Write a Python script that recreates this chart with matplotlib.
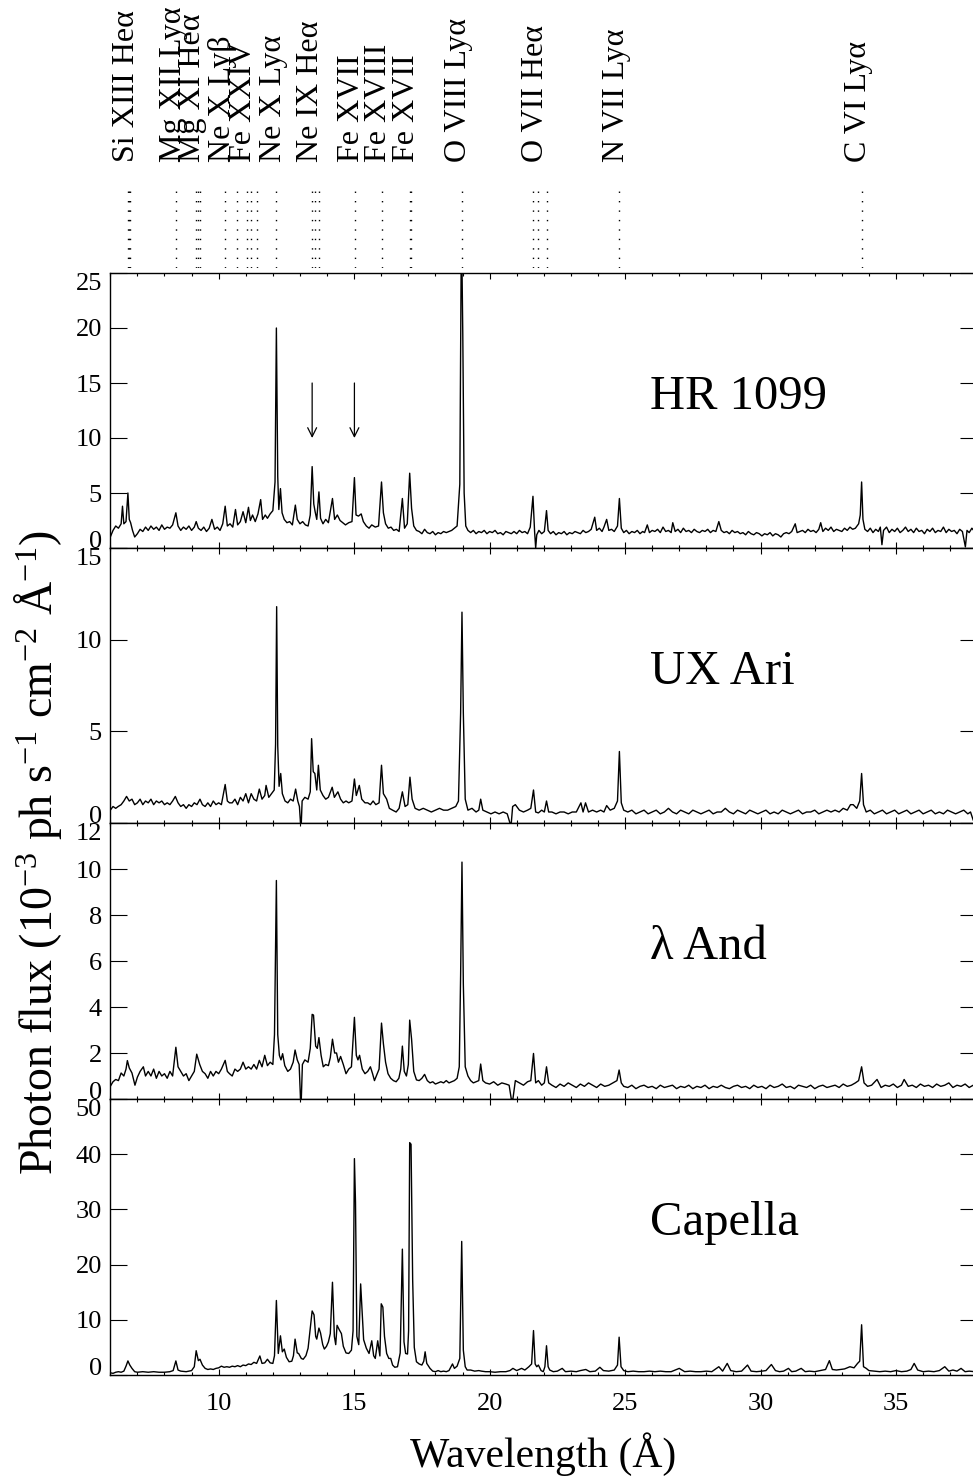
import numpy as np
import matplotlib
matplotlib.use("Agg")
import matplotlib.pyplot as plt

plt.rcParams['font.family'] = ['Liberation Serif', 'DejaVu Serif']
plt.rcParams['mathtext.fontset'] = 'custom'
plt.rcParams['mathtext.rm'] = 'Liberation Serif'
plt.rcParams['mathtext.it'] = 'Liberation Serif:italic'

# ---- spectra: wavelength (A), flux (1e-3 ph/s/cm2/A) ----
hr1099_wave = [
    6.00, 6.10, 6.20, 6.30, 6.40, 6.45, 6.50, 6.58, 6.65, 6.70, 6.75, 6.82, 6.90,
    7.00, 7.10, 7.20, 7.30, 7.40, 7.50, 7.60, 7.70, 7.80, 7.90, 8.00, 8.10, 8.20,
    8.30, 8.42, 8.50, 8.60, 8.70, 8.80, 8.90, 9.00, 9.10, 9.17, 9.25, 9.35, 9.45,
    9.55, 9.65, 9.75, 9.85, 9.95, 10.05, 10.15, 10.24, 10.32, 10.42, 10.52, 10.62,
    10.70, 10.80, 10.90, 11.00, 11.10, 11.17, 11.25, 11.35, 11.45, 11.55, 11.62,
    11.72, 11.80, 11.90, 12.00, 12.08, 12.13, 12.18, 12.22, 12.28, 12.34, 12.42,
    12.52, 12.62, 12.72, 12.83, 12.90, 13.00, 13.10, 13.20, 13.30, 13.38, 13.45,
    13.51, 13.56, 13.62, 13.70, 13.76, 13.85, 13.95, 14.05, 14.20, 14.28, 14.38,
    14.48, 14.58, 14.68, 14.80, 14.92, 15.01, 15.07, 15.16, 15.26, 15.34, 15.45,
    15.55, 15.65, 15.78, 15.90, 16.01, 16.08, 16.16, 16.26, 16.36, 16.46, 16.56,
    16.66, 16.78, 16.86, 16.96, 17.05, 17.12, 17.20, 17.30, 17.40, 17.50, 17.60,
    17.70, 17.80, 17.90, 18.00, 18.10, 18.20, 18.30, 18.40, 18.50, 18.60, 18.70,
    18.80, 18.90, 18.96, 19.01, 19.06, 19.12, 19.20, 19.30, 19.40, 19.50, 19.60,
    19.70, 19.80, 19.90, 20.00, 20.10, 20.20, 20.30, 20.40, 20.50, 20.60, 20.70,
    20.80, 20.90, 21.00, 21.10, 21.20, 21.30, 21.40, 21.50, 21.60, 21.66, 21.70,
    21.74, 21.82, 21.92, 22.02, 22.10, 22.16, 22.25, 22.35, 22.45, 22.55, 22.65,
    22.75, 22.85, 22.95, 23.05, 23.15, 23.25, 23.35, 23.45, 23.55, 23.65, 23.75,
    23.88, 23.95, 24.05, 24.15, 24.22, 24.32, 24.40, 24.50, 24.60, 24.72, 24.79,
    24.86, 24.95, 25.05, 25.15, 25.25, 25.35, 25.45, 25.55, 25.65, 25.72, 25.82,
    25.90, 26.00, 26.10, 26.20, 26.30, 26.40, 26.50, 26.60, 26.70, 26.76, 26.85,
    26.95, 27.05, 27.15, 27.25, 27.35, 27.45, 27.55, 27.65, 27.75, 27.85, 27.95,
    28.05, 28.15, 28.25, 28.35, 28.46, 28.55, 28.65, 28.75, 28.85, 28.95, 29.05,
    29.15, 29.25, 29.35, 29.45, 29.55, 29.65, 29.75, 29.85, 29.95, 30.05, 30.15,
    30.25, 30.35, 30.45, 30.55, 30.65, 30.75, 30.85, 30.95, 31.05, 31.15, 31.28,
    31.35, 31.45, 31.55, 31.65, 31.75, 31.85, 31.95, 32.05, 32.15, 32.22, 32.30,
    32.40, 32.50, 32.60, 32.70, 32.80, 32.90, 33.00, 33.10, 33.20, 33.30, 33.40,
    33.50, 33.62, 33.68, 33.73, 33.78, 33.85, 33.95, 34.05, 34.15, 34.25, 34.35,
    34.42, 34.48, 34.54, 34.65, 34.75, 34.85, 34.95, 35.05, 35.15, 35.25, 35.35,
    35.45, 35.55, 35.65, 35.75, 35.85, 35.95, 36.05, 36.15, 36.25, 36.35, 36.45,
    36.55, 36.65, 36.75, 36.85, 36.95, 37.05, 37.15, 37.25, 37.35, 37.45, 37.56,
    37.62, 37.70, 37.80, 37.90, 38.00]
hr1099_flux = [
    1.0, 1.6, 2.0, 1.8, 2.2, 3.8, 2.2, 2.4, 5.0, 2.6, 2.3, 1.6, 1.0,
    1.3, 1.7, 1.5, 1.9, 1.6, 2.0, 1.7, 1.9, 1.6, 2.1, 1.7, 1.9, 1.8,
    2.1, 3.2, 2.0, 1.6, 1.9, 1.7, 2.0, 1.6, 1.9, 2.4, 1.8, 1.6, 1.9,
    1.5, 1.8, 2.6, 1.7, 1.9, 1.6, 2.2, 3.8, 2.0, 2.2, 1.9, 3.5,
    2.1, 2.4, 3.3, 2.3, 3.7, 2.5, 3.0, 2.4, 3.1, 4.4, 2.6,
    3.0, 2.7, 3.1, 3.4, 6.0, 20.0, 6.5, 3.5, 5.4, 3.2, 2.6,
    2.3, 2.4, 2.1, 3.9, 2.6, 2.2, 2.4, 2.1, 2.0, 3.0, 7.4,
    4.0, 3.3, 2.6, 5.1, 2.7, 2.2, 2.6, 2.3, 4.5, 2.6, 3.0,
    2.5, 2.3, 2.1, 2.3, 2.4, 6.4, 3.0, 2.9, 3.1, 2.4, 2.0,
    1.8, 2.1, 1.9, 2.0, 6.0, 3.2, 2.2, 1.8, 1.9, 1.6, 1.7,
    1.5, 4.5, 1.8, 2.2, 6.8, 3.6, 2.0, 1.6, 1.5, 1.3, 1.7,
    1.4, 1.3, 1.5, 1.2, 1.4, 1.3, 1.5, 1.4, 1.5, 1.6, 1.8,
    2.0, 5.8, 30.0, 19.4, 5.0, 2.0, 1.6, 1.4, 1.6, 1.3, 1.5,
    1.4, 1.6, 1.3, 1.5, 1.4, 1.6, 1.3, 1.4, 1.2, 1.5, 1.4,
    1.3, 1.5, 1.3, 1.6, 1.4, 1.5, 1.3, 1.9, 4.7, 1.5, 0.0,
    1.2, 1.6, 1.3, 1.5, 3.4, 1.6, 1.3, 1.5, 1.2, 1.4, 1.3,
    1.5, 1.2, 1.4, 1.3, 1.5, 1.4, 1.3, 1.6, 1.4, 1.5, 1.7,
    2.8, 1.6, 1.8, 1.5, 1.9, 2.6, 1.6, 1.7, 1.5, 2.0, 4.5,
    1.8, 1.4, 1.6, 1.3, 1.5, 1.4, 1.6, 1.3, 1.5, 1.4, 2.1,
    1.4, 1.6, 1.5, 1.7, 1.4, 1.9, 1.5, 1.6, 1.4, 2.3, 1.5,
    1.7, 1.4, 1.8, 1.5, 1.6, 1.4, 1.7, 1.5, 1.4, 1.6, 1.5,
    1.7, 1.4, 1.6, 1.5, 2.4, 1.6, 1.4, 1.5, 1.3, 1.6, 1.4,
    1.5, 1.3, 1.4, 1.2, 1.5, 1.3, 1.2, 1.4, 1.3, 1.1, 1.3,
    1.2, 1.4, 1.1, 1.3, 1.2, 1.0, 1.3, 1.4, 1.3, 1.5, 2.2,
    1.4, 1.5, 1.6, 1.4, 1.7, 1.5, 1.6, 1.4, 1.7, 2.3, 1.5,
    1.8, 1.6, 1.9, 1.5, 1.7, 1.6, 1.5, 1.8, 1.6, 1.9, 1.7,
    1.8, 2.2, 3.0, 6.0, 2.6, 1.7, 1.5, 1.8, 1.4, 1.7, 1.5,
    1.9, 0.3, 1.6, 1.9, 1.4, 1.7, 1.5, 1.8, 1.4, 1.6, 1.9,
    1.5, 1.7, 1.4, 1.8, 1.5, 1.6, 1.3, 1.7, 1.5, 1.8, 1.4,
    1.6, 1.5, 1.9, 1.4, 1.7, 1.5, 1.6, 1.3, 1.7, 1.5, 0.1,
    1.6, 1.4, 1.8, 1.5, 1.6]

uxari_wave = [
    6.00, 6.10, 6.20, 6.29, 6.40, 6.50, 6.60, 6.70, 6.80, 6.90, 7.00, 7.10, 7.20,
    7.30, 7.40, 7.50, 7.60, 7.70, 7.80, 7.90, 8.00, 8.10, 8.20, 8.30, 8.40, 8.50,
    8.60, 8.70, 8.80, 8.90, 9.00, 9.10, 9.20, 9.31, 9.40, 9.50, 9.60, 9.70, 9.80,
    9.90, 10.00, 10.10, 10.24, 10.32, 10.40, 10.50, 10.60, 10.70, 10.80, 10.90,
    11.00, 11.10, 11.20, 11.30, 11.40, 11.50, 11.60, 11.70, 11.75, 11.85, 11.95,
    12.05, 12.10, 12.14, 12.18, 12.23, 12.29, 12.35, 12.45, 12.55, 12.65, 12.75,
    12.84, 12.92, 12.98, 13.02, 13.05, 13.08, 13.18, 13.30, 13.38, 13.43, 13.49,
    13.55, 13.62, 13.68, 13.75, 13.85, 13.95, 14.05, 14.19, 14.27, 14.40, 14.50,
    14.60, 14.70, 14.80, 14.92, 15.01, 15.08, 15.19, 15.28, 15.40, 15.50, 15.60,
    15.70, 15.80, 15.92, 16.01, 16.08, 16.20, 16.30, 16.42, 16.55, 16.66, 16.78,
    16.88, 16.98, 17.06, 17.14, 17.25, 17.40, 17.55, 17.70, 17.85, 18.00, 18.15,
    18.30, 18.45, 18.60, 18.75, 18.85, 18.93, 18.98, 19.03, 19.10, 19.20, 19.35,
    19.50, 19.60, 19.67, 19.75, 19.90, 20.05, 20.20, 20.35, 20.50, 20.65, 20.75,
    20.80, 20.85, 20.95, 21.10, 21.25, 21.40, 21.52, 21.62, 21.70, 21.80, 21.92,
    22.02, 22.10, 22.18, 22.30, 22.45, 22.60, 22.75, 22.90, 23.05, 23.20, 23.37,
    23.45, 23.54, 23.65, 23.80, 23.95, 24.10, 24.22, 24.32, 24.45, 24.60, 24.72,
    24.79, 24.86, 24.95, 25.10, 25.25, 25.40, 25.55, 25.70, 25.85, 26.00, 26.15,
    26.30, 26.45, 26.60, 26.75, 26.90, 27.05, 27.20, 27.35, 27.50, 27.65, 27.80,
    27.95, 28.10, 28.25, 28.40, 28.55, 28.70, 28.85, 29.00, 29.15, 29.30, 29.45,
    29.60, 29.75, 29.90, 30.05, 30.20, 30.35, 30.50, 30.65, 30.80, 30.95, 31.10,
    31.25, 31.40, 31.55, 31.70, 31.85, 32.00, 32.15, 32.30, 32.45, 32.60, 32.75,
    32.90, 33.05, 33.20, 33.32, 33.42, 33.55, 33.66, 33.73, 33.80, 33.90, 34.05,
    34.20, 34.35, 34.50, 34.65, 34.80, 34.95, 35.10, 35.25, 35.40, 35.55, 35.70,
    35.85, 36.00, 36.15, 36.30, 36.45, 36.60, 36.75, 36.90, 37.05, 37.20, 37.35,
    37.50, 37.65, 37.75, 37.85, 37.92, 38.00]
uxari_flux = [
    0.7, 0.9, 0.8, 0.9, 1.0, 1.2, 1.45, 1.2, 1.3, 1.0, 1.1, 1.3, 1.0,
    1.2, 1.1, 1.3, 1.0, 1.2, 1.1, 1.2, 1.0, 1.1, 1.0, 1.2, 1.45, 1.1,
    0.9, 1.0, 0.8, 1.0, 0.9, 1.1, 1.0, 1.3, 1.0, 0.9, 1.1, 0.9, 1.2,
    1.0, 1.1, 1.0, 2.1, 1.2, 1.1, 1.1, 1.3, 1.0, 1.4, 1.2,
    1.6, 1.1, 1.6, 1.3, 1.2, 1.85, 1.3, 1.5, 2.05, 1.4, 1.6,
    1.8, 4.3, 11.8, 4.2, 2.0, 2.7, 1.6, 1.2, 1.1, 1.3, 1.2,
    1.85, 1.2, 0.9, 0.0, 0.0, 1.2, 1.4, 1.3, 1.7, 4.6, 2.8,
    2.7, 1.8, 3.15, 1.8, 1.5, 1.3, 1.4, 1.95, 1.4, 1.7, 1.3,
    1.1, 1.2, 1.1, 1.2, 2.4, 1.5, 2.05, 1.3, 1.1, 1.1, 1.0,
    1.2, 1.0, 1.1, 3.15, 1.6, 1.3, 0.8, 0.7, 0.6, 0.8, 1.7,
    0.9, 1.0, 2.5, 1.3, 0.8, 0.7, 0.8, 0.7, 0.6, 0.7, 0.8,
    0.7, 0.7, 0.8, 0.9, 1.2, 6.0, 11.5, 6.0, 1.3, 0.7, 0.8,
    0.6, 0.7, 1.3, 0.7, 0.6, 0.5, 0.6, 0.5, 0.6, 0.5, 0.0,
    0.0, 0.9, 1.0, 0.7, 0.6, 0.7, 0.8, 1.8, 0.6, 0.55, 0.7,
    0.6, 1.2, 0.6, 0.6, 0.5, 0.6, 0.6, 0.5, 0.6, 0.6, 1.1,
    0.6, 1.1, 0.6, 0.7, 0.6, 0.7, 0.6, 0.95, 0.7, 0.8, 1.2,
    3.9, 1.1, 0.7, 0.6, 0.7, 0.5, 0.6, 0.7, 0.5, 0.6, 0.7,
    0.5, 0.6, 0.8, 0.6, 0.5, 0.7, 0.6, 0.5, 0.7, 0.6, 0.5,
    0.6, 0.7, 0.5, 0.6, 0.6, 0.8, 0.6, 0.5, 0.7, 0.6, 0.5,
    0.7, 0.6, 0.5, 0.6, 0.7, 0.5, 0.6, 0.5, 0.7, 0.6, 0.5,
    0.6, 0.7, 0.5, 0.6, 0.6, 0.7, 0.5, 0.6, 0.7, 0.6, 0.7,
    0.6, 0.8, 0.7, 1.0, 1.0, 0.8, 1.2, 2.7, 1.0, 0.6, 0.7,
    0.5, 0.6, 0.7, 0.5, 0.6, 0.7, 0.5, 0.6, 0.7, 0.5, 0.6,
    0.7, 0.5, 0.6, 0.7, 0.5, 0.6, 0.5, 0.7, 0.6, 0.5, 0.6,
    0.7, 0.5, 0.6, 0.15, 0.6, 0.5]

land_wave = [
    6.00, 6.10, 6.20, 6.30, 6.40, 6.50, 6.58, 6.63, 6.70, 6.80, 6.91, 7.00, 7.10,
    7.22, 7.30, 7.40, 7.50, 7.60, 7.70, 7.80, 7.90, 8.00, 8.10, 8.20, 8.30, 8.42,
    8.50, 8.60, 8.70, 8.80, 8.90, 9.00, 9.10, 9.19, 9.30, 9.40, 9.50, 9.60, 9.70,
    9.80, 9.90, 10.00, 10.10, 10.24, 10.32, 10.40, 10.50, 10.60, 10.70, 10.80,
    10.90, 11.00, 11.10, 11.20, 11.30, 11.40, 11.50, 11.60, 11.70, 11.80, 11.90,
    12.00, 12.06, 12.13, 12.18, 12.24, 12.30, 12.36, 12.44, 12.55, 12.65, 12.75,
    12.82, 12.90, 12.97, 13.02, 13.05, 13.09, 13.18, 13.30, 13.38, 13.45, 13.50,
    13.58, 13.64, 13.70, 13.78, 13.86, 13.95, 14.05, 14.12, 14.20, 14.28, 14.35,
    14.42, 14.50, 14.60, 14.70, 14.80, 14.90, 15.01, 15.08, 15.14, 15.20, 15.30,
    15.40, 15.50, 15.60, 15.68, 15.75, 15.85, 15.92, 16.01, 16.08, 16.16, 16.25,
    16.35, 16.45, 16.55, 16.65, 16.72, 16.78, 16.85, 16.93, 17.00, 17.05, 17.12,
    17.20, 17.30, 17.40, 17.50, 17.60, 17.70, 17.80, 17.90, 18.00, 18.10, 18.20,
    18.30, 18.40, 18.50, 18.60, 18.70, 18.80, 18.88, 18.93, 18.98, 19.03, 19.10,
    19.20, 19.30, 19.40, 19.50, 19.60, 19.67, 19.75, 19.85, 20.00, 20.15, 20.30,
    20.45, 20.60, 20.72, 20.80, 20.86, 20.95, 21.10, 21.25, 21.40, 21.52, 21.62,
    21.70, 21.80, 21.92, 22.02, 22.10, 22.18, 22.30, 22.45, 22.60, 22.75, 22.90,
    23.05, 23.20, 23.35, 23.50, 23.65, 23.80, 23.95, 24.10, 24.25, 24.40, 24.55,
    24.70, 24.78, 24.86, 24.95, 25.10, 25.25, 25.40, 25.55, 25.70, 25.85, 26.00,
    26.15, 26.30, 26.45, 26.60, 26.75, 26.90, 27.05, 27.20, 27.35, 27.50, 27.65,
    27.80, 27.95, 28.10, 28.25, 28.40, 28.55, 28.70, 28.85, 29.00, 29.15, 29.30,
    29.45, 29.60, 29.75, 29.90, 30.05, 30.20, 30.35, 30.50, 30.65, 30.80, 30.95,
    31.10, 31.25, 31.40, 31.55, 31.70, 31.85, 32.00, 32.15, 32.30, 32.45, 32.60,
    32.75, 32.90, 33.05, 33.20, 33.35, 33.50, 33.62, 33.73, 33.82, 33.95, 34.10,
    34.30, 34.45, 34.60, 34.75, 34.90, 35.05, 35.20, 35.30, 35.45, 35.60, 35.75,
    35.90, 36.05, 36.20, 36.35, 36.50, 36.65, 36.80, 36.95, 37.10, 37.25, 37.40,
    37.55, 37.70, 37.85, 38.00]
land_flux = [
    0.55, 0.75, 0.85, 0.8, 1.13, 1.0, 1.3, 1.67, 1.35, 1.13, 0.6, 0.95, 1.2,
    1.4, 1.0, 1.2, 1.0, 1.3, 0.9, 1.2, 1.0, 1.1, 0.9, 1.2, 1.0, 2.25,
    1.4, 1.2, 1.0, 1.1, 0.8, 1.0, 1.2, 1.95, 1.5, 1.2, 1.1, 0.9, 1.2,
    1.0, 1.2, 1.1, 1.3, 1.68, 1.2, 1.1, 1.0, 1.3, 1.2, 1.3,
    1.6, 1.3, 1.4, 1.3, 1.5, 1.3, 1.68, 1.4, 1.9, 1.45, 1.6,
    1.5, 2.8, 9.5, 2.8, 1.9, 1.7, 1.97, 1.45, 1.2, 1.3, 1.6,
    2.13, 1.7, 1.5, 0.0, 0.0, 1.5, 1.7, 1.6, 2.2, 3.68, 3.65,
    2.3, 2.2, 2.67, 1.9, 1.4, 1.5, 1.45, 1.8, 2.6, 2.0, 2.0,
    1.6, 1.85, 1.5, 1.1, 1.3, 1.4, 3.55, 1.9, 1.7, 1.9, 1.3,
    1.1, 1.2, 1.4, 1.1, 0.8, 1.1, 1.3, 3.3, 2.4, 1.6, 1.1,
    0.9, 0.8, 0.75, 0.9, 1.3, 2.3, 1.2, 1.0, 1.5, 3.43, 2.6,
    1.2, 0.83, 0.8, 0.9, 1.07, 0.8, 0.7, 0.75, 0.65, 0.7, 0.75,
    0.7, 0.8, 0.7, 0.75, 0.8, 0.9, 1.4, 5.4, 10.3, 5.0, 1.4,
    1.0, 0.8, 0.7, 0.75, 0.8, 1.52, 0.8, 0.7, 0.65, 0.75, 0.6,
    0.7, 0.65, 0.6, 0.0, 0.0, 0.8, 0.7, 0.6, 0.75, 0.8, 1.98,
    0.7, 0.8, 0.6, 0.7, 1.4, 0.7, 0.6, 0.5, 0.65, 0.55, 0.7,
    0.6, 0.5, 0.65, 0.55, 0.7, 0.6, 0.5, 0.65, 0.55, 0.6, 0.7,
    0.8, 1.26, 0.7, 0.55, 0.5, 0.6, 0.45, 0.55, 0.6, 0.5, 0.55,
    0.45, 0.6, 0.5, 0.55, 0.6, 0.45, 0.55, 0.5, 0.6, 0.45, 0.55,
    0.5, 0.6, 0.45, 0.55, 0.5, 0.6, 0.5, 0.45, 0.55, 0.6, 0.5,
    0.55, 0.45, 0.6, 0.5, 0.55, 0.45, 0.6, 0.5, 0.55, 0.65, 0.5,
    0.55, 0.45, 0.6, 0.55, 0.5, 0.6, 0.45, 0.55, 0.6, 0.5, 0.55,
    0.6, 0.5, 0.65, 0.55, 0.6, 0.7, 0.8, 1.4, 0.7, 0.55, 0.6,
    0.85, 0.5, 0.6, 0.55, 0.65, 0.5, 0.6, 0.85, 0.55, 0.6, 0.5,
    0.65, 0.55, 0.6, 0.5, 0.65, 0.55, 0.6, 0.7, 0.5, 0.6, 0.55,
    0.65, 0.5, 0.6, 0.55]

capella_wave = [
    6.00, 6.10, 6.20, 6.30, 6.40, 6.50, 6.58, 6.65, 6.72, 6.80, 6.90, 7.00, 7.20,
    7.40, 7.60, 7.80, 8.00, 8.20, 8.32, 8.42, 8.50, 8.60, 8.80, 9.00, 9.10, 9.17,
    9.25, 9.31, 9.40, 9.50, 9.60, 9.70, 9.80, 9.90, 10.00, 10.10, 10.20, 10.30,
    10.40, 10.50, 10.60, 10.70, 10.80, 10.90, 11.00, 11.10, 11.20, 11.30, 11.40,
    11.52, 11.60, 11.70, 11.80, 11.90, 12.00, 12.06, 12.13, 12.20, 12.28, 12.35,
    12.42, 12.50, 12.60, 12.70, 12.76, 12.82, 12.90, 12.95, 13.05, 13.12, 13.22,
    13.30, 13.38, 13.45, 13.52, 13.58, 13.62, 13.70, 13.76, 13.84, 13.90, 13.98,
    14.05, 14.12, 14.20, 14.27, 14.32, 14.37, 14.45, 14.53, 14.60, 14.70, 14.80,
    14.90, 14.96, 15.01, 15.05, 15.10, 15.17, 15.24, 15.30, 15.35, 15.45, 15.55,
    15.65, 15.72, 15.78, 15.87, 15.95, 16.00, 16.06, 16.12, 16.20, 16.28, 16.35,
    16.42, 16.50, 16.60, 16.70, 16.78, 16.84, 16.90, 16.97, 17.01, 17.05, 17.10,
    17.16, 17.22, 17.30, 17.40, 17.50, 17.57, 17.62, 17.68, 17.80, 17.90, 18.00,
    18.10, 18.20, 18.30, 18.40, 18.50, 18.63, 18.70, 18.80, 18.90, 18.97, 19.03,
    19.10, 19.17, 19.30, 19.45, 19.60, 19.70, 19.85, 20.00, 20.20, 20.40, 20.60,
    20.75, 20.86, 21.00, 21.18, 21.30, 21.45, 21.55, 21.62, 21.68, 21.74, 21.80,
    21.90, 21.98, 22.04, 22.10, 22.16, 22.22, 22.35, 22.50, 22.68, 22.80, 23.00,
    23.20, 23.35, 23.55, 23.70, 23.90, 24.07, 24.20, 24.40, 24.60, 24.72, 24.78,
    24.85, 24.95, 25.10, 25.30, 25.50, 25.70, 25.90, 26.10, 26.30, 26.50, 26.70,
    27.00, 27.20, 27.40, 27.60, 27.80, 28.00, 28.20, 28.46, 28.60, 28.77, 28.90,
    29.10, 29.30, 29.52, 29.65, 29.85, 30.05, 30.20, 30.40, 30.55, 30.70, 30.85,
    31.03, 31.15, 31.30, 31.50, 31.65, 31.80, 32.00, 32.20, 32.40, 32.54, 32.65,
    32.80, 32.95, 33.10, 33.30, 33.45, 33.58, 33.66, 33.73, 33.80, 33.90, 34.00,
    34.20, 34.40, 34.60, 34.80, 35.00, 35.20, 35.40, 35.55, 35.67, 35.80, 36.00,
    36.20, 36.40, 36.60, 36.80, 36.95, 37.10, 37.25, 37.40, 37.55, 37.70, 37.90,
    38.00]
capella_flux = [
    0.4, 0.3, 0.5, 0.6, 0.5, 0.7, 1.6, 2.55, 1.8, 1.2, 0.6, 0.5, 0.6,
    0.5, 0.6, 0.5, 0.5, 0.6, 0.8, 2.55, 0.9, 0.7, 0.6, 0.8, 1.5, 4.4,
    2.6, 2.85, 1.8, 1.2, 1.0, 1.1, 1.0, 1.2, 1.3, 1.6, 1.4, 1.5,
    1.4, 1.6, 1.5, 1.7, 1.5, 1.8, 1.7, 2.0, 1.9, 2.3, 2.1,
    3.45, 2.1, 2.2, 2.85, 2.2, 2.1, 3.5, 13.5, 3.9, 7.1, 4.2,
    4.7, 3.2, 2.4, 2.5, 3.5, 6.5, 4.0, 3.9, 3.0, 2.85, 3.5,
    4.85, 8.5, 11.6, 10.9, 7.0, 6.5, 8.5, 7.6, 5.5, 4.7, 5.2,
    6.0, 7.5, 16.8, 7.0, 5.5, 9.0, 8.2, 7.5, 5.2, 4.0, 3.9,
    4.5, 8.0, 39.2, 31.3, 7.0, 5.5, 16.5, 11.0, 6.4, 4.85, 3.9,
    6.2, 3.5, 3.0, 6.2, 3.45, 12.9, 12.3, 7.0, 3.9, 3.0, 3.0,
    1.8, 1.4, 1.5, 4.0, 22.8, 6.0, 3.9, 3.8, 8.0, 42.1, 41.8,
    17.2, 5.0, 2.4, 2.0, 1.8, 2.5, 4.2, 2.1, 1.2, 0.7, 0.6,
    0.8, 0.6, 0.7, 0.6, 0.8, 2.0, 1.2, 1.6, 3.0, 24.2, 4.5,
    1.5, 0.9, 0.9, 0.7, 0.8, 0.7, 0.6, 0.6, 0.5, 0.6, 0.6,
    0.8, 1.2, 0.8, 1.2, 0.9, 1.5, 2.0, 8.05, 2.0, 1.5, 1.8,
    0.8, 0.6, 1.5, 5.3, 1.5, 0.9, 0.6, 0.7, 1.2, 0.6, 0.7,
    0.6, 0.8, 1.0, 0.6, 0.7, 1.4, 0.8, 0.7, 0.9, 1.8, 6.85,
    1.5, 0.8, 0.6, 0.7, 0.6, 0.6, 0.7, 0.6, 0.7, 0.6, 0.6,
    1.2, 0.6, 0.7, 0.6, 0.6, 0.7, 0.6, 1.5, 0.7, 2.1, 0.8,
    0.6, 0.7, 1.8, 0.7, 0.6, 0.7, 0.8, 1.9, 0.8, 0.6, 0.7,
    1.2, 0.6, 0.7, 1.2, 0.6, 0.7, 0.6, 0.8, 1.0, 2.6, 1.0,
    0.9, 1.0, 1.1, 1.5, 1.3, 2.1, 2.5, 9.1, 1.5, 1.2, 0.8,
    0.7, 0.6, 0.7, 0.6, 0.8, 0.6, 0.7, 1.0, 2.1, 0.9, 0.6,
    0.7, 0.6, 0.8, 1.5, 0.7, 0.9, 0.7, 1.2, 0.6, 0.7, 0.6,
    0.6]

stars = ["HR 1099", "UX Ari", "λ And", "Capella"]
waves = [hr1099_wave, uxari_wave, land_wave, capella_wave]
fluxes = [hr1099_flux, uxari_flux, land_flux, capella_flux]
ylims = [25, 15, 12, 50]
yticks = [[0, 5, 10, 15, 20, 25], [0, 5, 10, 15],
          [0, 2, 4, 6, 8, 10, 12], [0, 10, 20, 30, 40, 50]]

# line identifications (dotted markers) and their labels
line_marks = [6.648, 6.688, 6.740, 8.42, 9.169, 9.231, 9.314, 10.239,
              10.66, 11.03, 11.18, 11.43, 12.134, 13.447, 13.553, 13.699,
              15.014, 16.02, 17.05, 17.10, 18.97, 21.60, 21.80, 22.10,
              24.78, 33.73]
line_names = ["Si XIII Heα", "Mg XII Lyα", "Mg XI Heα", "Ne X Lyβ", "Fe XXIV",
              "Ne X Lyα", "Ne IX Heα", "Fe XVII", "Fe XVIII", "Fe XVII",
              "O VIII Lyα", "O VII Heα", "N VII Lyα", "C VI Lyα"]
name_at = [6.59, 8.32, 9.05, 10.13, 10.91, 12.01, 13.39, 14.91, 15.89,
           16.94, 18.87, 21.71, 24.70, 33.63]
arrows_at = [13.45, 15.01]

W, H = 973, 1478
fig = plt.figure(figsize=(W / 100, H / 100), dpi=100)

x0, x1 = 110.3, 977.3
edges = [273, 548, 823, 1099, 1375]
axes = []
for i in range(4):
    top, bot = edges[i], edges[i + 1]
    ax = fig.add_axes([x0 / W, 1 - bot / H, (x1 - x0) / W, (bot - top) / H])
    ax.plot(waves[i], fluxes[i], color='black', lw=1.0)
    ax.set_xlim(6, 38)
    ax.set_ylim(0, ylims[i])
    ax.set_yticks(yticks[i])
    ax.set_xticks([10, 15, 20, 25, 30, 35])
    ax.set_xticks(np.arange(6, 39), minor=True)
    ax.tick_params(axis='y', which='major', direction='in', length=12,
                   width=0.8, left=True, right=True, labelsize=19, pad=6)
    ax.tick_params(axis='x', which='major', direction='in', length=4.3,
                   width=0.8, top=True, bottom=True, labelsize=19, pad=13)
    ax.tick_params(axis='x', which='minor', direction='in', length=2.4,
                   width=0.8, top=True, bottom=True)
    for sp in ax.spines.values():
        sp.set_linewidth(1.0)
    if i < 3:
        ax.tick_params(axis='x', labelbottom=False)
    labs = ax.get_yticklabels()
    labs[0].set_verticalalignment('baseline')
    labs[-1].set_verticalalignment('top')
    ax.text(0.623, 0.55, stars[i], transform=ax.transAxes, fontsize=35,
            ha='left', va='center')
    axes.append(ax)

for xa in arrows_at:
    axes[0].annotate('', xy=(xa, 10), xytext=(xa, 15),
                     arrowprops=dict(arrowstyle='->', lw=0.9, color='black',
                                     mutation_scale=16, shrinkA=0, shrinkB=0))

# dotted line markers above the top panel
axm = fig.add_axes([x0 / W, 1 - 268 / H, (x1 - x0) / W, (268 - 190) / H])
axm.set_xlim(6, 38)
axm.set_ylim(0, 1)
axm.axis('off')
for xm in line_marks:
    axm.plot([xm, xm], [0, 1], color='black', lw=1.0,
             linestyle=(0, (1, 5.8)), solid_capstyle='butt')
for name, xp in zip(line_names, name_at):
    axm.text(xp, (268 - 162) / (268 - 190), name, rotation=90, fontsize=23,
             ha='center', va='bottom', clip_on=False)

fig.text(38 / W, 1 - 853 / H,
         r'Photon flux (10$^{-3}$ ph s$^{-1}$ cm$^{-2}$ Å$^{-1}$)',
         rotation=90, ha='center', va='center', fontsize=33)
fig.text(543 / W, 1 - 1467 / H, 'Wavelength (Å)', ha='center',
         va='baseline', fontsize=30)

fig.savefig('out.png', dpi=100)
